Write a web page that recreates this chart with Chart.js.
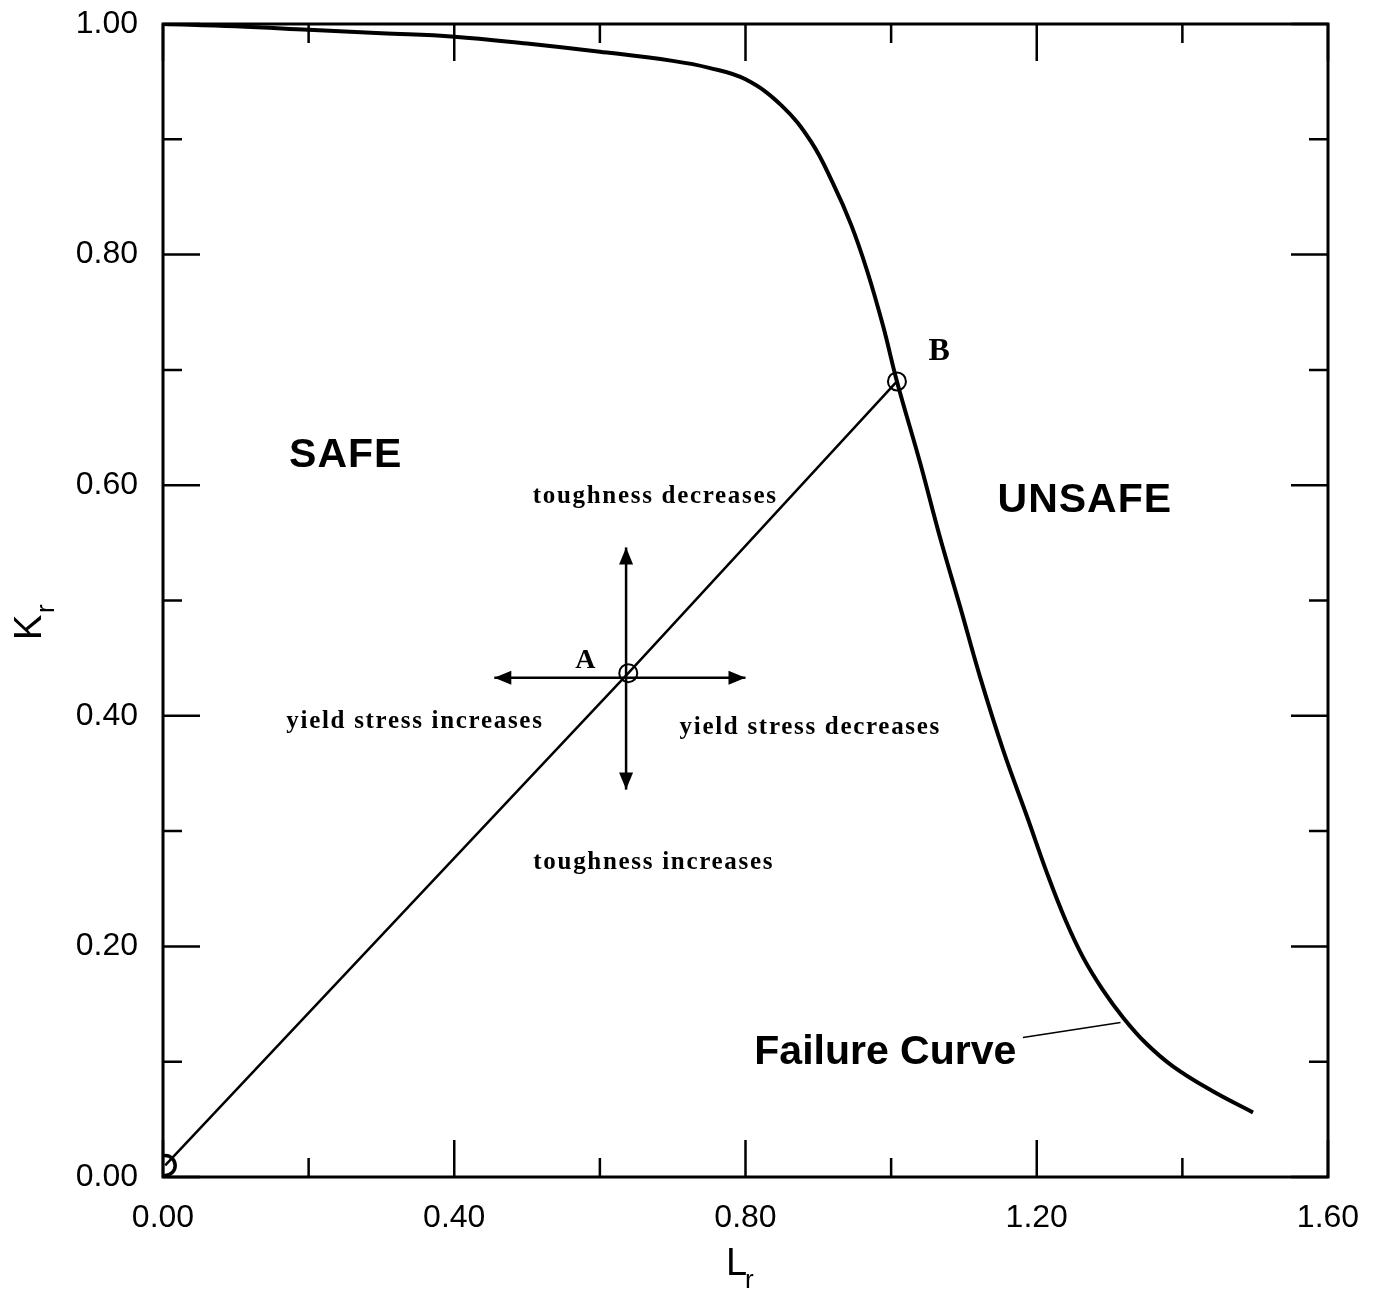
<!DOCTYPE html>
<html><head><meta charset="utf-8">
<script src="https://cdn.jsdelivr.net/npm/chart.js@4/dist/chart.umd.min.js"></script>
<style>html,body{margin:0;padding:0;background:#fff;}#wrap{width:1374px;height:1292px;}</style>
</head><body><div id="wrap"><canvas id="c" width="1374" height="1292"></canvas></div>
<script>
// ---- data ----
const failureLr = [0, 0.1, 0.2, 0.3, 0.4, 0.5, 0.6, 0.7, 0.75, 0.8, 0.85, 0.89, 0.92, 0.945, 0.967, 0.989, 1.008, 1.040, 1.067, 1.095, 1.122, 1.154, 1.187, 1.215, 1.240, 1.264, 1.290, 1.319, 1.350, 1.387, 1.440, 1.497];
const failureKr = [1.000, 0.998, 0.995, 0.992, 0.989, 0.983, 0.976, 0.968, 0.962, 0.952, 0.929, 0.898, 0.862, 0.826, 0.786, 0.738, 0.690, 0.619, 0.555, 0.494, 0.434, 0.370, 0.312, 0.262, 0.222, 0.190, 0.163, 0.138, 0.116, 0.096, 0.075, 0.056];
const loadLineLr = [0.003, 0.639, 1.008];
const loadLineKr = [0.010, 0.437, 0.690];
const markerLr = [0.003, 0.639, 1.008];
const markerKr = [0.010, 0.437, 0.690];
const arrowHLr = [0.455, 0.800];
const arrowHKr = [0.433, 0.433];
const arrowVLr = [0.636, 0.636];
const arrowVKr = [0.546, 0.336];
const pointerLr = [1.181, 1.315];
const pointerKr = [0.121, 0.134];
const xTickValues = [0, 0.2, 0.4, 0.6, 0.8, 1.0, 1.2, 1.4, 1.6];
const xTickLabels = ['0.00', '', '0.40', '', '0.80', '', '1.20', '', '1.60'];
const yTickValues = [0, 0.1, 0.2, 0.3, 0.4, 0.5, 0.6, 0.7, 0.8, 0.9, 1.0];
const yTickLabels = ['0.00', '', '0.20', '', '0.40', '', '0.60', '', '0.80', '', '1.00'];
const annotationTexts = ['SAFE', 'UNSAFE', 'Failure Curve', 'toughness decreases', 'toughness increases', 'yield stress increases', 'yield stress decreases', 'A', 'B'];

// ---- styling / placement (not data) ----
const SANS = '"Liberation Sans", Arial, Helvetica, sans-serif';
const SERIF = '"Liberation Serif", "Times New Roman", serif';
const textPlacement = [
  {x: 0.251, y: 0.626, font: 'bold 41px ' + SANS, ls: '1px'},
  {x: 1.266, y: 0.587, font: 'bold 41px ' + SANS, ls: '1px'},
  {x: 0.992, y: 0.108, font: 'bold 41px ' + SANS, ls: '0px'},
  {x: 0.676, y: 0.590, font: 'bold 25px ' + SERIF, ls: '1.7px'},
  {x: 0.674, y: 0.273, font: 'bold 25px ' + SERIF, ls: '1.7px'},
  {x: 0.346, y: 0.395, font: 'bold 25px ' + SERIF, ls: '1.7px'},
  {x: 0.889, y: 0.390, font: 'bold 25px ' + SERIF, ls: '1.7px'},
  {x: 0.580, y: 0.448, font: 'bold 28px ' + SERIF, ls: '0px'},
  {x: 1.066, y: 0.716, font: 'bold 32px ' + SERIF, ls: '0px'}
];

const pts = (xs, ys) => xs.map((v, i) => ({x: v, y: ys[i]}));
const zeroPad = s => { s.paddingLeft = 0; s.paddingRight = 0; s.paddingTop = 0; s.paddingBottom = 0; };

const overlay = {
  id: 'overlay',
  afterDatasetsDraw(chart) {
    const ctx = chart.ctx, a = chart.chartArea;
    const xs = chart.scales.x, ys = chart.scales.y;
    ctx.save();
    ctx.strokeStyle = '#000'; ctx.fillStyle = '#000';
    ctx.lineWidth = 3;
    ctx.strokeRect(a.left, a.top, a.right - a.left, a.bottom - a.top);
    ctx.lineWidth = 2.5;
    ctx.beginPath();
    xTickValues.forEach((v, i) => {
      const px = xs.getPixelForValue(v);
      const len = xTickLabels[i] ? 37 : 19;
      ctx.moveTo(px, a.bottom); ctx.lineTo(px, a.bottom - len);
      ctx.moveTo(px, a.top); ctx.lineTo(px, a.top + len);
    });
    yTickValues.forEach((v, i) => {
      const py = ys.getPixelForValue(v);
      const len = yTickLabels[i] ? 37 : 19;
      ctx.moveTo(a.left, py); ctx.lineTo(a.left + len, py);
      ctx.moveTo(a.right, py); ctx.lineTo(a.right - len, py);
    });
    ctx.stroke();
    const arrow = (lx, ky) => {
      const x0 = xs.getPixelForValue(lx[0]), y0 = ys.getPixelForValue(ky[0]);
      const x1 = xs.getPixelForValue(lx[1]), y1 = ys.getPixelForValue(ky[1]);
      ctx.lineWidth = 2.5;
      ctx.beginPath(); ctx.moveTo(x0, y0); ctx.lineTo(x1, y1); ctx.stroke();
      const head = (hx, hy, fx, fy) => {
        const ang = Math.atan2(hy - fy, hx - fx), L = 17, W = 7;
        ctx.beginPath();
        ctx.moveTo(hx, hy);
        ctx.lineTo(hx - L * Math.cos(ang) + W * Math.sin(ang), hy - L * Math.sin(ang) - W * Math.cos(ang));
        ctx.lineTo(hx - L * Math.cos(ang) - W * Math.sin(ang), hy - L * Math.sin(ang) + W * Math.cos(ang));
        ctx.closePath(); ctx.fill();
      };
      head(x0, y0, x1, y1); head(x1, y1, x0, y0);
    };
    arrow(arrowHLr, arrowHKr);
    arrow(arrowVLr, arrowVKr);
    ctx.lineWidth = 1.5;
    ctx.beginPath();
    ctx.moveTo(xs.getPixelForValue(pointerLr[0]), ys.getPixelForValue(pointerKr[0]));
    ctx.lineTo(xs.getPixelForValue(pointerLr[1]), ys.getPixelForValue(pointerKr[1]));
    ctx.stroke();
    ctx.textAlign = 'center'; ctx.textBaseline = 'middle';
    annotationTexts.forEach((t, i) => {
      const p = textPlacement[i];
      ctx.font = p.font;
      try { ctx.letterSpacing = p.ls; } catch (e) {}
      ctx.fillText(t, xs.getPixelForValue(p.x), ys.getPixelForValue(p.y));
    });
    try { ctx.letterSpacing = '0px'; } catch (e) {}
    ctx.textAlign = 'left'; ctx.textBaseline = 'alphabetic';
    ctx.font = '38px ' + SANS;
    ctx.fillText('L', 726, 1275);
    ctx.font = '26px ' + SANS;
    ctx.fillText('r', 745, 1288);
    ctx.save();
    ctx.translate(41, 640);
    ctx.rotate(-Math.PI / 2);
    ctx.font = '38px ' + SANS;
    ctx.fillText('K', 0, 0);
    ctx.font = '26px ' + SANS;
    ctx.fillText('r', 27, 13);
    ctx.restore();
    ctx.restore();
  }
};

new Chart(document.getElementById('c'), {
  type: 'scatter',
  data: {
    datasets: [
      {label: 'Failure Curve', data: pts(failureLr, failureKr), showLine: true, borderColor: '#000', borderWidth: 4, pointRadius: 0, tension: 0.4, fill: false},
      {label: 'Load line', data: pts(loadLineLr, loadLineKr), showLine: true, borderColor: '#000', borderWidth: 2.5, pointRadius: 0, tension: 0, fill: false},
      {label: 'Points', data: pts(markerLr, markerKr), showLine: false, pointStyle: 'circle', pointRadius: [10, 9, 9], pointBorderWidth: [3.5, 2, 2], pointBorderColor: '#000', pointBackgroundColor: 'rgba(0,0,0,0)'}
    ]
  },
  options: {
    responsive: false, animation: false, devicePixelRatio: 1,
    layout: {padding: {left: 0, top: 24, right: 46, bottom: 0}},
    plugins: {legend: {display: false}, tooltip: {enabled: false}},
    scales: {
      x: {
        type: 'linear', min: 0, max: 1.6,
        afterBuildTicks: s => { s.ticks = xTickValues.map(v => ({value: v})); },
        afterFit: s => { s.height = 115; zeroPad(s); },
        ticks: {autoSkip: false, maxRotation: 0, padding: 22, color: '#000', font: {family: SANS, size: 32}, callback: (v, i) => xTickLabels[i]},
        grid: {display: false, drawTicks: false},
        border: {display: false}
      },
      y: {
        type: 'linear', min: 0, max: 1.0,
        afterBuildTicks: s => { s.ticks = yTickValues.map(v => ({value: v})); },
        afterFit: s => { s.width = 163; zeroPad(s); },
        ticks: {autoSkip: false, padding: 25, color: '#000', font: {family: SANS, size: 32}, callback: (v, i) => yTickLabels[i]},
        grid: {display: false, drawTicks: false},
        border: {display: false}
      }
    }
  },
  plugins: [overlay]
});
</script></body></html>
